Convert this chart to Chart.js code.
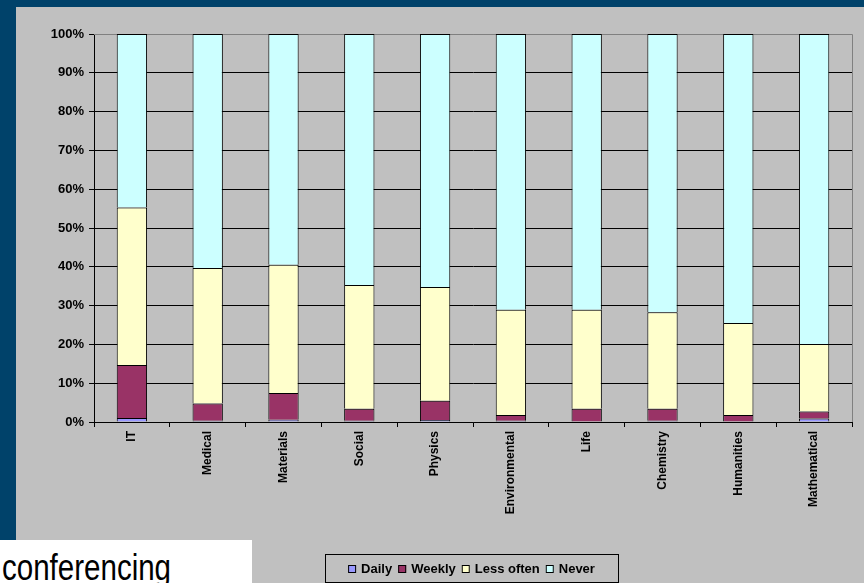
<!DOCTYPE html>
<html>
<head>
<meta charset="utf-8">
<script src="https://cdn.jsdelivr.net/npm/chart.js@4/dist/chart.umd.min.js"></script>
<style>
html, body { margin:0; padding:0; }
body { width:864px; height:583px; background:#00426a; position:relative; overflow:hidden; font-family:Arial, "Liberation Sans", sans-serif; }
#panel { position:absolute; left:16px; top:7px; width:848px; height:576px; background:#c0c0c0; }
#wrap { position:absolute; left:0; top:0; width:864px; height:583px; }
#caption { position:absolute; left:0; top:540px; width:252px; height:43px; background:#fff; overflow:hidden; }
#caption span { position:absolute; left:2px; top:10px; font-size:36px; line-height:36px; color:#000; white-space:nowrap; transform:scaleX(0.82); transform-origin:left top; }
</style>
</head>
<body>
<div id="panel"></div>
<div id="wrap"><canvas id="chart" width="864" height="583"></canvas></div>
<div id="caption"><span>conferencing</span></div>
<script>
// share of respondents per field (percent of each column)
var categories = ["IT","Medical","Materials","Social","Physics","Environmental","Life","Chemistry","Humanities","Mathematical"];
var daily     = [1.0, 0.3, 0.6, 0.3, 0.5, 0.3, 0.1, 0.3, 0.1, 0.9];
var weekly    = [13.7, 4.5, 6.9, 3.1, 5.0, 1.5, 3.3, 3.1, 1.7, 1.8];
var lessOften = [40.6, 34.9, 33.0, 31.9, 29.3, 27.1, 25.5, 24.9, 23.7, 17.4];
var never     = [44.7, 60.3, 59.5, 64.7, 65.2, 71.1, 71.1, 71.7, 74.5, 79.9];
var seriesNames  = ["Daily","Weekly","Less often","Never"];
var seriesColors = ["#9999ff","#993366","#ffffcc","#ccffff"];
var yMax = 100, yStep = 10;

var FONT = 'Arial, "Liberation Sans", sans-serif';

var frame = {
	id:'frame',
	beforeDatasetsDraw:function(chart){
		var a = chart.chartArea, ctx = chart.ctx;
		ctx.save();
		ctx.strokeStyle = '#808080';
		ctx.lineWidth = 1;
		ctx.beginPath();
		ctx.moveTo(a.left, a.top + 0.5);
		ctx.lineTo(a.right + 0.5, a.top + 0.5);
		ctx.lineTo(a.right + 0.5, a.bottom);
		ctx.stroke();
		ctx.restore();
	}
};

var legendBox = {
	id:'legendBox',
	afterDraw:function(chart){
		var ctx = chart.ctx;
		var boxL = 325, boxT = 554, boxW = 293, boxH = 28;
		ctx.save();
		ctx.strokeStyle = '#000';
		ctx.lineWidth = 1;
		ctx.strokeRect(boxL + 0.5, boxT + 0.5, boxW, boxH);
		ctx.font = 'bold 13px ' + FONT;
		var sq = 8, gapText = 5, gapItem = 6;
		var sets = chart.data.datasets;
		var total = 0;
		sets.forEach(function(d, i){
			total += sq + gapText + ctx.measureText(d.label).width;
			if (i < sets.length - 1) total += gapItem;
		});
		var x = boxL + (boxW - total) / 2;
		var cy = boxT + boxH / 2 + 1;
		ctx.textBaseline = 'middle';
		ctx.textAlign = 'left';
		sets.forEach(function(d){
			ctx.fillStyle = d.backgroundColor;
			ctx.fillRect(x, cy - sq/2, sq, sq);
			ctx.strokeStyle = '#000';
			ctx.strokeRect(x + 0.5, cy - sq/2 + 0.5, sq - 1, sq - 1);
			x += sq + gapText;
			ctx.fillStyle = '#000';
			ctx.fillText(d.label, x, cy);
			x += ctx.measureText(d.label).width + gapItem;
		});
		ctx.restore();
	}
};

var seriesData = [daily, weekly, lessOften, never];
var datasets = seriesNames.map(function(name, i){
	return {
		label: name,
		data: seriesData[i],
		backgroundColor: seriesColors[i],
		borderColor: '#000',
		borderWidth: {top:1, right:1, bottom:0, left:1},
		borderSkipped: false,
		stack: 'all',
		categoryPercentage: 1,
		barPercentage: 0.4
	};
});

new Chart(document.getElementById('chart'), {
	type: 'bar',
	data: { labels: categories, datasets: datasets },
	options: {
		responsive: false,
		animation: false,
		layout: { padding: { top:34, right:12, left:0, bottom:0 } },
		plugins: { legend: { display:false }, tooltip: { enabled:false } },
		scales: {
			x: {
				stacked: true,
				afterFit: function(s){ s.height = 161; },
				grid: { offset:true, drawOnChartArea:false, drawTicks:true, tickLength:5, color:'#000' },
				border: { color:'#000', width:1 },
				ticks: { autoSkip:false, maxRotation:90, minRotation:90, padding:4, color:'#000', font:{ family:FONT, size:12, weight:'bold' } }
			},
			y: {
				stacked: true,
				min: 0, max: yMax,
				afterFit: function(s){ s.width = 94; },
				grid: {
					color: function(c){ return c.tick && c.tick.value === yMax ? '#808080' : '#000'; },
					tickColor: '#000', tickLength:5, lineWidth:1
				},
				border: { color:'#000', width:1 },
				ticks: { stepSize:yStep, padding:5, color:'#000', font:{ family:FONT, size:13, weight:'bold' },
					callback: function(v){ return v + '%'; } }
			}
		}
	},
	plugins: [frame, legendBox]
});
</script>
</body>
</html>
